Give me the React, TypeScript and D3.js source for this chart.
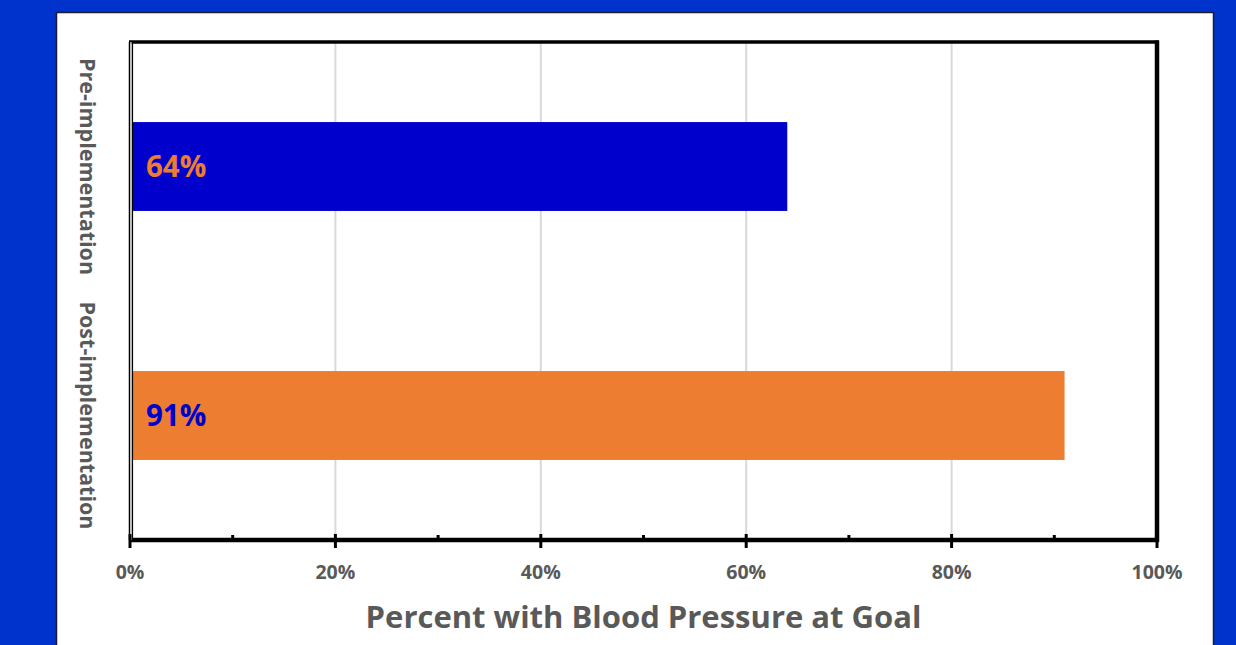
import React from "react";
import * as d3 from "d3";

const categories = ["Pre-implementation", "Post-implementation"];
const values = [64, 91];
const barColors = ["#0000CC", "#ED7D31"];
const labelColors = ["#ED7D31", "#0000CC"];
const majorTicks = [0, 20, 40, 60, 80, 100];
const minorTicks = [10, 30, 50, 70, 90];
const gridTicks = [20, 40, 60, 80];
const axisTitle = "Percent with Blood Pressure at Goal";

const W = 1236;
const H = 645;
const plot = { left: 130, right: 1157, top: 42, bottom: 540 };
const FONT = "'Open Sans', 'Liberation Sans', sans-serif";
const GRAY = "#595959";

export default function App() {
  const x = d3.scaleLinear().domain([0, 100]).range([plot.left, plot.right]);
  const y = d3
    .scaleBand<string>()
    .domain(categories)
    .range([plot.top, plot.bottom])
    .paddingInner(0.643)
    .paddingOuter(0.3215);

  return (
    <svg
      width={W}
      height={H}
      style={{ position: "absolute", left: 0, top: 0, display: "block" }}
    >
      <rect x={0} y={0} width={W} height={H} fill="#0033CC" />
      <rect x={56.5} y={12.5} width={1157} height={H} fill="#FFFFFF" stroke="#1a1a3a" strokeWidth={1.5} />

      {/* gridlines */}
      {gridTicks.map((t) => (
        <line key={t} x1={x(t)} x2={x(t)} y1={plot.top} y2={plot.bottom} stroke="#D9D9D9" strokeWidth={2} />
      ))}

      {/* bars */}
      {categories.map((c, i) => (
        <rect
          key={c}
          x={x(0) + 2}
          y={y(c)}
          width={x(values[i]) - x(0) - 2}
          height={y.bandwidth()}
          fill={barColors[i]}
        />
      ))}

      {/* data labels */}
      {categories.map((c, i) => (
        <text
          key={c}
          x={x(0) + 16}
          y={(y(c) as number) + y.bandwidth() / 2}
          dy="0.36em"
          fontFamily={FONT}
          fontWeight={700}
          fontSize={29.5}
          fill={labelColors[i]}
        >
          {values[i]}%
        </text>
      ))}

      {/* plot frame */}
      <line x1={plot.left - 1} x2={plot.right + 2} y1={plot.top} y2={plot.top} stroke="#000" strokeWidth={3.5} />
      <line x1={plot.right} x2={plot.right} y1={plot.top - 1.5} y2={plot.bottom + 2} stroke="#000" strokeWidth={4.5} />
      <line x1={plot.left} x2={plot.right + 2} y1={plot.bottom} y2={plot.bottom} stroke="#000" strokeWidth={4.5} />
      <line x1={plot.left - 0.5} x2={plot.left - 0.5} y1={plot.top} y2={plot.bottom} stroke="#000" strokeWidth={1.5} />
      <line x1={plot.left + 1} x2={plot.left + 1} y1={plot.top} y2={plot.bottom} stroke="#BFBFBF" strokeWidth={1.5} />
      <line x1={plot.left + 2.5} x2={plot.left + 2.5} y1={plot.top} y2={plot.bottom} stroke="#000" strokeWidth={1.2} />

      {/* ticks */}
      {majorTicks.map((t) => (
        <line key={t} x1={x(t)} x2={x(t)} y1={plot.bottom - 6} y2={plot.bottom + 8} stroke="#000" strokeWidth={3} />
      ))}
      {minorTicks.map((t) => (
        <line key={t} x1={x(t)} x2={x(t)} y1={plot.bottom - 5} y2={plot.bottom} stroke="#000" strokeWidth={3} />
      ))}

      {/* tick labels */}
      {majorTicks.map((t) => (
        <text
          key={t}
          x={x(t)}
          y={572}
          dy="0.36em"
          textAnchor="middle"
          fontFamily={FONT}
          fontWeight={700}
          fontSize={19.5}
          fill={GRAY}
        >
          {t}%
        </text>
      ))}

      {/* category labels, rotated */}
      {categories.map((c) => {
        const cy = (y(c) as number) + y.bandwidth() / 2;
        return (
          <text
            key={c}
            transform={`translate(88,${cy}) rotate(90)`}
            textAnchor="middle"
            dy="0.36em"
            fontFamily={FONT}
            fontWeight={700}
            fontSize={21.5}
            fill={GRAY}
          >
            {c}
          </text>
        );
      })}

      {/* axis title */}
      <text
        x={(plot.left + plot.right) / 2}
        y={617}
        dy="0.36em"
        textAnchor="middle"
        fontFamily={FONT}
        fontWeight={700}
        fontSize={31}
        fill={GRAY}
      >
        {axisTitle}
      </text>
    </svg>
  );
}
